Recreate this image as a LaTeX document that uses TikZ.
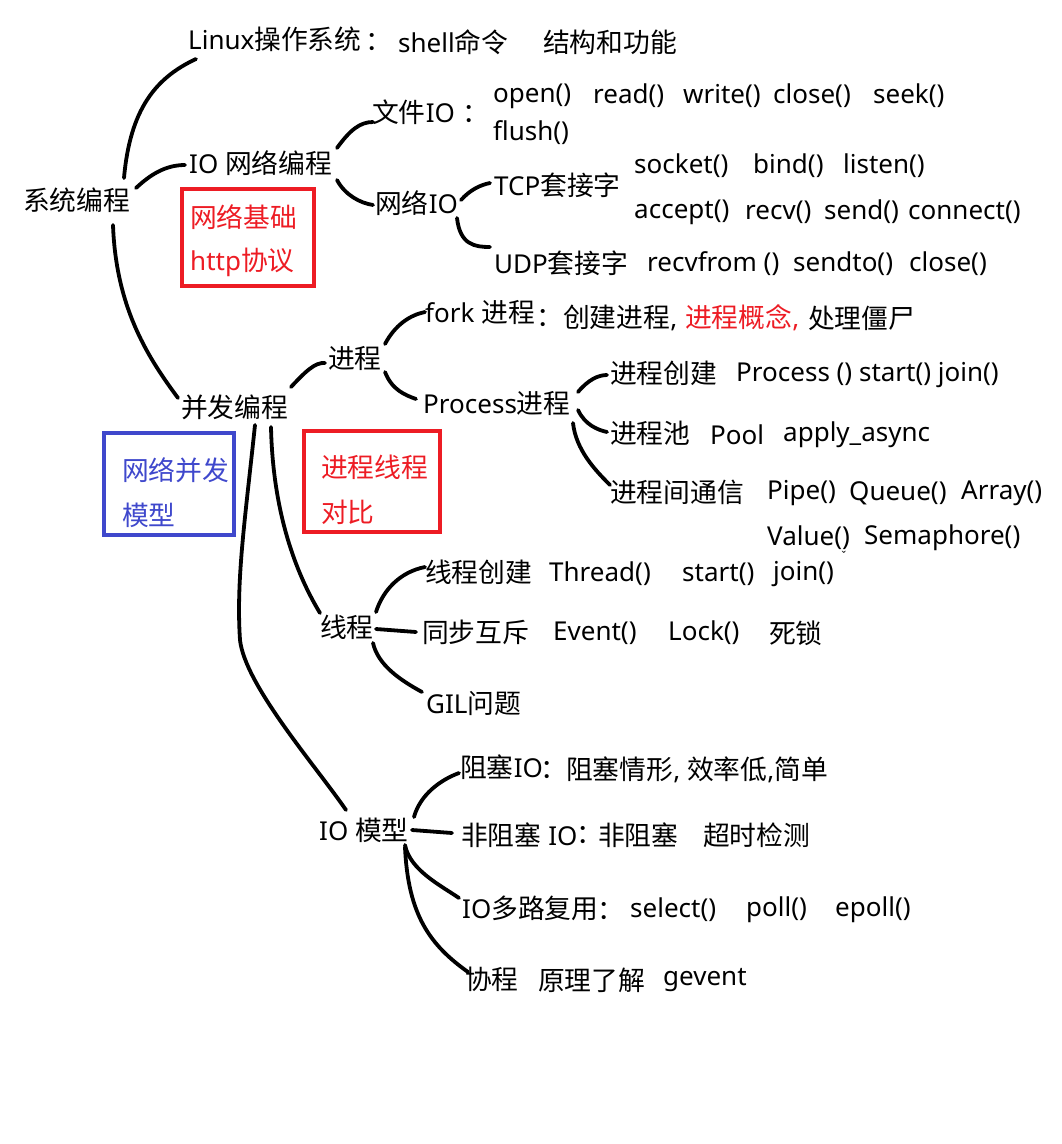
\documentclass[tikz,border=0pt]{standalone}
\usepackage{fontspec}
\setmainfont{Noto Sans}
\newfontfamily\cjkf[Scale=1.03]{Noto Sans CJK SC}
\newcommand{\zh}[1]{{\cjkf #1}}
\definecolor{mkred}{HTML}{ED1C24}
\definecolor{mkblue}{HTML}{3F48CC}
\begin{document}
\begin{tikzpicture}[x=1pt,y=-1pt,
  t/.style={anchor=west,inner sep=0pt,font=\fontsize{26}{30}\selectfont},
  tc/.style={anchor=center,inner sep=0pt,font=\fontsize{26}{30}\selectfont},
  ln/.style={line width=3.8pt,line cap=round,line join=round},
  redtxt/.style={text=mkred},
  bluetxt/.style={text=mkblue},
  redbox/.style={draw=mkred,line width=4.5pt},
  bluebox/.style={draw=mkblue,line width=4.5pt}]
\useasboundingbox (0,0) rectangle (1062,1144);
% ---- nodes
\node[t] (sys) at (23,200) {\zh{系统编程}};
\node[t] (linux) at (188,39) {Linux\zh{操作系统}};
\node[tc] (lcol) at (379,42) {\zh{：}};
\node[t] (shell) at (398,42) {shell\zh{命令}};
\node[t] (struct) at (543,42) {\zh{结构和功能}};
\node[t] (ionet) at (189,163) {IO \zh{网络编程}};
\node[t] (file) at (372,112) {\zh{文件}IO};
\node[tc] (fcol) at (476,114) {\zh{：}};
\node[t] (open) at (493,96) {open()};
\node[t] (read) at (593,96) {read()};
\node[t] (write) at (683,96) {write()};
\node[t] (closef) at (773,96) {close()};
\node[t] (seek) at (873,96) {seek()};
\node[t] (flush) at (493,133) {flush()};
\node[t] (netio) at (375,203) {\zh{网络}IO};
\node[t] (tcp) at (494,185) {TCP\zh{套接字}};
\node[t] (socket) at (634,166) {socket()};
\node[t] (bind) at (753,166) {bind()};
\node[t] (listen) at (843,166) {listen()};
\node[t] (accept) at (634,212) {accept()};
\node[t] (recv) at (745,212) {recv()};
\node[t] (send) at (824,212) {send()};
\node[t] (connect) at (908,212) {connect()};
\node[t] (udp) at (494,263) {UDP\zh{套接字}};
\node[t] (recvfrom) at (647,264) {recvfrom ()};
\node[t] (sendto) at (793,264) {sendto()};
\node[t] (closeu) at (909,264) {close()};
\draw[redbox] (182,189) rectangle (314,286);
\node[t,redtxt] (netbase) at (190,217) {\zh{网络基础}};
\node[t,redtxt] (http) at (190,262) {http\zh{协议}};
\node[t] (fork) at (425,312) {fork \zh{进程}};
\node[tc] (kcol) at (550,318) {\zh{：}};
\node[t] (mkproc) at (563,318) {\zh{创建进程}, };
\node[t,redtxt] (concept) at (685,318) {\zh{进程概念}, };
\node[t] (zombie) at (808,318) {\zh{处理僵尸}};
\node[t] (proc) at (328,358) {\zh{进程}};
\node[t] (conc) at (181,407) {\zh{并发编程}};
\node[t] (procp) at (423,403) {Process\zh{进程}};
\node[t] (pcreate) at (610,373) {\zh{进程创建}};
\node[t] (pcls) at (736,375) {Process () start() join()};
\node[t] (ppool) at (610,433) {\zh{进程池}};
\node[t] (pool) at (710,435) {Pool};
\node[t] (apply) at (783,435) {apply\_async};
\node[t] (pcomm) at (610,492) {\zh{进程间通信}};
\node[t] (pipe) at (767,493) {Pipe()};
\node[t] (queue) at (849,493) {Queue()};
\node[t] (array) at (961,493) {Array()};
\node[t] (value) at (767,538) {Value()};
\node[t] (sema) at (864,538) {Semaphore()};
\draw[bluebox] (104,433) rectangle (234,535);
\node[t,bluetxt] (netconc) at (122,470) {\zh{网络并发}};
\node[t,bluetxt] (model) at (122,515) {\zh{模型}};
\draw[redbox] (304,431) rectangle (440,532);
\node[t,redtxt] (ptcmp) at (321,467) {\zh{进程线程}};
\node[t,redtxt] (cmp) at (321,512) {\zh{对比}};
\node[t] (tcreate) at (425,572) {\zh{线程创建}};
\node[t] (thr) at (549,574) {Thread()};
\node[t] (tstart) at (682,574) {start()};
\node[t] (tjoin) at (773,574) {join()};
\node[anchor=center,inner sep=0pt,font=\fontsize{12}{12}\selectfont] (tick) at (844,556) {ˇ};
\node[t] (thread) at (320,627) {\zh{线程}};
\node[t] (tsync) at (422,632) {\zh{同步互斥}};
\node[t] (event) at (553,633) {Event()};
\node[t] (lock) at (668,633) {Lock()};
\node[t] (dead) at (769,633) {\zh{死锁}};
\node[t] (gil) at (426,703) {GIL\zh{问题}};
\node[t] (iom) at (319,830) {IO \zh{模型}};
\node[t] (blk) at (460,767) {\zh{阻塞}IO};
\node[tc] (bcol) at (554,770) {\zh{：}};
\node[t] (blkd) at (566,770) {\zh{阻塞情形}, \zh{效率低},\zh{简单}};
\node[t] (nblk) at (461,835) {\zh{非阻塞} IO};
\node[tc] (ncol) at (590,835) {\zh{：}};
\node[t] (nblkd) at (598,835) {\zh{非阻塞}};
\node[t] (tmo) at (703,835) {\zh{超时检测}};
\node[t] (mux) at (462,908) {IO\zh{多路复用}};
\node[tc] (mcol) at (611,911) {\zh{：}};
\node[t] (sel) at (630,910) {select()};
\node[t] (poll) at (746,910) {poll()};
\node[t] (epoll) at (835,910) {epoll()};
\node[t] (coro) at (465,979) {\zh{协程}};
\node[t] (princ) at (538,980) {\zh{原理了解}};
\node[t] (gevent) at (663,980) {gevent};
% ---- connectors
\draw[ln] ([shift={(101,-22)}]sys.west) .. controls (130,110) and (155,78) .. ([shift={(8,20)}]linux.west);
\draw[ln] ([shift={(113,-12)}]sys.west) .. controls (150,175) and (165,165) .. ([shift={(-4,2)}]ionet.west);
\draw[ln] ([shift={(148,-15)}]ionet.west) .. controls (350,130) and (360,122) .. ([shift={(1,10)}]file.west);
\draw[ln] ([shift={(148,17)}]ionet.west) .. controls (345,195) and (360,203) .. ([shift={(-2,2)}]netio.west);
\draw[ln] ([shift={(86,-3)}]netio.west) .. controls (470,190) and (480,185) .. ([shift={(-4,-2)}]tcp.west);
\draw[ln] ([shift={(82,15)}]netio.west) .. controls (460,245) and (475,247) .. ([shift={(-4,-16)}]udp.west);
\draw[ln] ([shift={(90,25)}]sys.west) .. controls (116,310) and (150,360) .. ([shift={(-3,-9)}]conc.west);
\draw[ln] ([shift={(110,-20)}]conc.west) .. controls (305,372) and (315,362) .. ([shift={(-3,5)}]proc.west);
\draw[ln] ([shift={(57,-14)}]proc.west) .. controls (395,325) and (410,315) .. ([shift={(0,0)}]fork.west);
\draw[ln] ([shift={(57,14)}]proc.west) .. controls (392,390) and (405,395) .. ([shift={(-7,-4)}]procp.west);
\draw[ln] ([shift={(155,-11)}]procp.west) .. controls (588,380) and (598,375) .. ([shift={(-3,2)}]pcreate.west);
\draw[ln] ([shift={(155,7)}]procp.west) .. controls (585,425) and (598,430) .. ([shift={(-3,-1)}]ppool.west);
\draw[ln] ([shift={(150,20)}]procp.west) .. controls (576,450) and (595,470) .. ([shift={(0,-7)}]pcomm.west);
\draw[ln] ([shift={(90,20)}]conc.west) .. controls (273,520) and (300,580) .. ([shift={(0,-14)}]thread.west);
\draw[ln] ([shift={(74,18)}]conc.west) .. controls (245,520) and (236,580) .. (240,640) .. controls (245,685) and (315,765) .. ([shift={(27,-20)}]iom.west);
\draw[ln] ([shift={(56,-15)}]thread.west) .. controls (383,590) and (400,572) .. ([shift={(0,-5)}]tcreate.west);
\draw[ln] ([shift={(56,2)}]thread.west) -- ([shift={(-6,0)}]tsync.west);
\draw[ln] ([shift={(53,16)}]thread.west) .. controls (378,665) and (400,680) .. ([shift={(-4,-11)}]gil.west);
\draw[ln] ([shift={(95,-13)}]iom.west) .. controls (420,795) and (440,780) .. ([shift={(-1,6)}]blk.west);
\draw[ln] ([shift={(93,0)}]iom.west) -- ([shift={(-9,-2)}]nblk.west);
\draw[ln] ([shift={(86,15)}]iom.west) .. controls (410,870) and (440,885) .. ([shift={(-3,-10)}]mux.west);
\draw[ln] ([shift={(86,17)}]iom.west) .. controls (408,915) and (430,945) .. ([shift={(3,-7)}]coro.west);
\end{tikzpicture}
\end{document}
